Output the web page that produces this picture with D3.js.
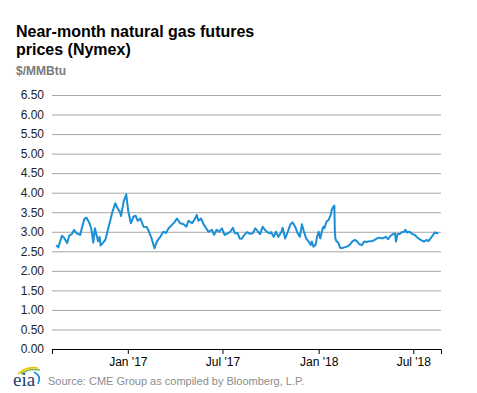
<!DOCTYPE html>
<html>
<head>
<meta charset="utf-8">
<script src="https://cdn.jsdelivr.net/npm/d3@7"></script>
<style>
  body { margin: 0; background: #fff; }
  svg { font-family: Arial, "Liberation Sans", sans-serif; }
  .grid line { stroke: #a6a6a6; stroke-width: 1; }
  .grid .domain { display: none; }
  .axis--y text { font-size: 12px; fill: #222; }
  .axis--x text { font-size: 12px; fill: #000; }
</style>
</head>
<body>
<svg width="477" height="393"></svg>
<script>
// near-month price, $/MMBtu
var dates = [
  "2016-08-17","2016-08-21","2016-08-28","2016-09-01","2016-09-07","2016-09-11","2016-09-16","2016-09-20","2016-09-25",
  "2016-10-02","2016-10-05","2016-10-10","2016-10-14","2016-10-19","2016-10-23","2016-10-27","2016-10-30",
  "2016-11-03","2016-11-05","2016-11-08","2016-11-10","2016-11-14","2016-11-19","2016-11-23","2016-11-28",
  "2016-12-03","2016-12-08","2016-12-11","2016-12-14","2016-12-17","2016-12-19","2016-12-24","2016-12-29",
  "2017-01-02","2017-01-07","2017-01-12","2017-01-16","2017-01-20","2017-01-25","2017-01-31",
  "2017-02-06","2017-02-09","2017-02-15","2017-02-21","2017-02-26",
  "2017-03-04","2017-03-10","2017-03-15","2017-03-20","2017-03-26","2017-03-31",
  "2017-04-05","2017-04-11","2017-04-17","2017-04-23","2017-04-27",
  "2017-05-04","2017-05-08","2017-05-13","2017-05-16","2017-05-21","2017-05-26","2017-05-31",
  "2017-06-04","2017-06-11","2017-06-15","2017-06-20","2017-06-25","2017-06-30",
  "2017-07-05","2017-07-10","2017-07-16","2017-07-21","2017-07-25","2017-07-30",
  "2017-08-03","2017-08-07","2017-08-12","2017-08-17","2017-08-22","2017-08-28",
  "2017-09-02","2017-09-07","2017-09-11","2017-09-16","2017-09-20","2017-09-24","2017-09-29",
  "2017-10-02","2017-10-07","2017-10-11","2017-10-16","2017-10-22","2017-10-24","2017-10-29",
  "2017-11-03","2017-11-08","2017-11-12","2017-11-17","2017-11-22","2017-11-26","2017-11-30",
  "2017-12-04","2017-12-08","2017-12-13","2017-12-17","2017-12-19","2017-12-22","2017-12-26","2017-12-29",
  "2018-01-01","2018-01-04","2018-01-08","2018-01-10","2018-01-12","2018-01-16","2018-01-20","2018-01-24",
  "2018-01-26","2018-01-29","2018-01-31","2018-02-01","2018-02-02","2018-02-04","2018-02-08","2018-02-11",
  "2018-02-15","2018-02-19","2018-02-24",
  "2018-03-01","2018-03-06","2018-03-11","2018-03-15","2018-03-20","2018-03-25","2018-03-29",
  "2018-04-03","2018-04-08","2018-04-13","2018-04-18","2018-04-23","2018-04-27",
  "2018-05-03","2018-05-09","2018-05-14","2018-05-18","2018-05-23","2018-05-27","2018-05-29",
  "2018-06-01","2018-06-05","2018-06-08","2018-06-13","2018-06-16","2018-06-19","2018-06-24","2018-06-29",
  "2018-07-04","2018-07-08","2018-07-13","2018-07-18","2018-07-22","2018-07-26","2018-07-30",
  "2018-08-03","2018-08-08","2018-08-11","2018-08-16","2018-08-18"
];
var prices = [
  2.66,2.60,2.90,2.85,2.71,2.90,2.94,3.05,2.96,
  2.92,3.09,3.33,3.36,3.24,3.09,2.72,3.09,
  2.87,2.76,2.87,2.65,2.71,2.79,3.00,3.26,
  3.53,3.73,3.64,3.56,3.51,3.40,3.77,3.96,
  3.51,3.22,3.39,3.41,3.28,3.34,3.13,
  3.12,3.05,2.85,2.58,2.76,
  2.87,3.00,2.97,3.09,3.17,3.24,
  3.34,3.22,3.20,3.13,3.28,
  3.22,3.30,3.43,3.28,3.34,3.19,3.09,
  3.00,3.05,2.92,3.05,3.00,3.09,
  2.92,2.95,3.00,3.10,2.96,2.97,
  2.83,2.82,2.92,2.99,2.95,2.96,
  3.09,3.00,2.94,3.13,3.05,3.00,2.96,
  2.99,2.87,3.00,2.87,3.00,3.10,2.83,
  3.00,3.19,3.24,3.13,2.96,2.87,3.19,
  3.00,2.83,2.75,2.66,2.75,2.62,2.66,2.87,
  3.00,2.83,3.05,3.13,3.09,3.26,3.30,3.43,
  3.56,3.64,3.67,3.00,2.83,2.76,2.71,2.59,
  2.58,2.60,2.62,
  2.66,2.75,2.79,2.76,2.68,2.66,2.75,
  2.74,2.76,2.76,2.79,2.83,2.85,
  2.83,2.87,2.81,2.89,2.94,2.96,2.75,
  2.94,2.94,2.98,3.00,3.05,2.98,3.00,2.94,
  2.92,2.86,2.81,2.77,2.75,2.79,2.76,
  2.83,2.92,2.98,2.96,2.97
];
var yTicks = [0, 0.5, 1, 1.5, 2, 2.5, 3, 3.5, 4, 4.5, 5, 5.5, 6, 6.5];
var xTicks = ["2017-01-01", "2017-07-01", "2018-01-01", "2018-07-01"];
var xDomain = ["2016-08-09", "2018-08-23"];

var parse = d3.timeParse("%Y-%m-%d");
var data = dates.map(function(d, i) { return {date: parse(d), value: prices[i]}; });

var svg = d3.select("svg"),
    margin = {top: 95, right: 36, bottom: 44, left: 52},
    width = +svg.attr("width") - margin.left - margin.right,
    height = +svg.attr("height") - margin.top - margin.bottom;

var x = d3.scaleTime().domain(xDomain.map(parse)).range([0, width]),
    y = d3.scaleLinear().domain([0, 6.5]).range([height, 0]);

var g = svg.append("g")
    .attr("transform", "translate(" + margin.left + "," + margin.top + ")");

// title block
svg.append("text")
    .attr("x", 16).attr("y", 37)
    .style("font-size", "16px").style("font-weight", "bold").attr("fill", "#000")
    .text("Near-month natural gas futures");
svg.append("text")
    .attr("x", 16).attr("y", 55)
    .style("font-size", "16px").style("font-weight", "bold").attr("fill", "#000")
    .text("prices (Nymex)");
svg.append("text")
    .attr("x", 16).attr("y", 75)
    .style("font-size", "12px").style("font-weight", "bold").attr("fill", "#7a7a7a")
    .text("$/MMBtu");

// gridlines + y labels
g.append("g")
    .attr("class", "grid axis--y")
    .call(d3.axisLeft(y).tickValues(yTicks).tickSize(-width).tickPadding(8)
      .tickFormat(d3.format(".2f")));

g.select(".grid").selectAll(".tick").filter(function(d) { return d === 0; })
    .select("line").style("stroke", "#000");

var line = d3.line()
    .x(function(d) { return x(d.date); })
    .y(function(d) { return y(d.value); });

g.append("path")
    .datum(data)
    .attr("fill", "none")
    .attr("stroke", "#1a8fd6")
    .attr("stroke-width", 2)
    .attr("stroke-linejoin", "round")
    .attr("d", line);

var fmt = d3.timeFormat("%b '%y");
g.append("g")
    .attr("class", "axis axis--x")
    .attr("transform", "translate(0," + height + ")")
    .call(d3.axisBottom(x).tickValues(xTicks.map(parse)).tickSize(5).tickPadding(3)
      .tickFormat(fmt))
    .call(function(a) {
      a.select(".domain").attr("stroke", "#000");
      a.selectAll(".tick line").attr("stroke", "#000");
    });

// eia logo + source
var logo = svg.append("g").attr("transform", "translate(12,366)");
logo.append("path").attr("d", "M6,8 Q14,0 26,2").attr("fill", "none")
    .attr("stroke", "#f2c200").attr("stroke-width", 1.6);
logo.append("path").attr("d", "M9,8 Q17,2 28,4").attr("fill", "none")
    .attr("stroke", "#7ab648").attr("stroke-width", 1.6);
logo.append("path").attr("d", "M22,6 Q30,10 26,18").attr("fill", "none")
    .attr("stroke", "#1a8fd6").attr("stroke-width", 1.6);
logo.append("text").attr("x", 1).attr("y", 20)
    .style("font-family", "'Liberation Serif', 'DejaVu Serif', serif")
    .style("font-size", "19px").attr("fill", "#1f3d6b")
    .text("eia");

svg.append("text")
    .attr("x", 48).attr("y", 385)
    .style("font-size", "11px").attr("fill", "#8c8c8c")
    .text("Source: CME Group as compiled by Bloomberg, L.P.");
</script>
</body>
</html>
